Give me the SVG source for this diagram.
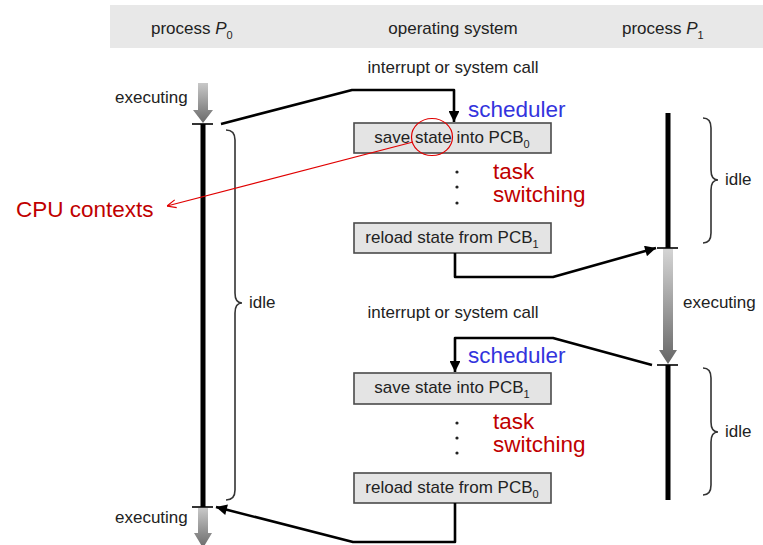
<svg xmlns="http://www.w3.org/2000/svg" width="763" height="545" viewBox="0 0 763 545">
  <defs>
    <style>
      .lbl { font-family: "Liberation Sans", Arial, sans-serif; font-size: 17px; fill: #222; }
      .sub { font-size: 11px; }
      .big { font-family: "Liberation Sans", Arial, sans-serif; font-size: 22.5px; }
      .blue { fill: #3333dd; }
      .red { fill: #c00000; }
      .box { fill: #e4e4e4; stroke: #4a4a4a; stroke-width: 1.6; }
      .flow { fill: none; stroke: #000; stroke-width: 2.6; stroke-linejoin: round; }
      .bar { stroke: #000; stroke-width: 5; }
      .tick { stroke: #000; stroke-width: 1.6; }
      .brace { fill: none; stroke: #333; stroke-width: 1.6; }
      .dot { fill: #222; }
    </style>
    <linearGradient id="execGrad" x1="0" y1="0" x2="0" y2="1">
      <stop offset="0" stop-color="#c8c8c8"/>
      <stop offset="1" stop-color="#6a6a6a"/>
    </linearGradient>
    <linearGradient id="execGradLong" x1="0" y1="0" x2="0" y2="1">
      <stop offset="0" stop-color="#d4d4d4"/>
      <stop offset="0.22" stop-color="#bdbdbd"/>
      <stop offset="1" stop-color="#666"/>
    </linearGradient>
    <marker id="head" viewBox="0 0 10 10" refX="10" refY="5" markerWidth="4.6" markerHeight="4.2" orient="auto" markerUnits="strokeWidth">
      <path d="M0,0 L10,5 L0,10 Z" fill="#000"/>
    </marker>
    <marker id="openHead" viewBox="0 0 10 10" refX="10" refY="5" markerWidth="10" markerHeight="10" orient="auto" markerUnits="userSpaceOnUse">
      <path d="M1,1 L10,5 L1,9" fill="none" stroke="#e00000" stroke-width="1.2"/>
    </marker>
  </defs>

  <!-- column headings -->
  <g id="header">
    <rect x="110" y="5" width="653" height="43" fill="#e8e8e8"/>
    <text class="lbl" x="151" y="34">process <tspan font-style="italic">P</tspan><tspan class="sub" dy="5">0</tspan></text>
    <text class="lbl" x="453" y="34" text-anchor="middle">operating system</text>
    <text class="lbl" x="622" y="34">process <tspan font-style="italic">P</tspan><tspan class="sub" dy="5">1</tspan></text>
  </g>

  <!-- process P0 timeline -->
  <g id="p0">
    <path d="M198,83 H208 V110 H213 L203,123 L193,110 H198 Z" fill="url(#execGrad)"/>
    <line class="tick" x1="192" y1="124" x2="213" y2="124"/>
    <line class="bar" x1="203" y1="124" x2="203" y2="507"/>
    <line class="tick" x1="192" y1="507" x2="213" y2="507"/>
    <path d="M198,508 H208 V533 H212 L203,548 L194,533 H198 Z" fill="url(#execGrad)"/>
    <text class="lbl" x="115" y="103">executing</text>
    <text class="lbl" x="115" y="523">executing</text>
    <path class="brace" d="M226,130 Q235,130 235,140 V293 Q235,303 242,303 Q235,303 235,313 V490 Q235,500 226,500"/>
    <text class="lbl" x="249" y="308">idle</text>
  </g>

  <!-- process P1 timeline -->
  <g id="p1">
    <line class="bar" x1="668" y1="113" x2="668" y2="248"/>
    <line class="tick" x1="657" y1="248" x2="678" y2="248"/>
    <path d="M663,249 H673 V350 H677 L668,364 L659,350 H663 Z" fill="url(#execGradLong)"/>
    <line class="tick" x1="657" y1="365" x2="678" y2="365"/>
    <line class="bar" x1="668" y1="365" x2="668" y2="500"/>
    <text class="lbl" x="683" y="308">executing</text>
    <path class="brace" d="M703,118 Q711,118 711,128 V170 Q711,180 718,180 Q711,180 711,190 V233 Q711,243 703,243"/>
    <text class="lbl" x="725" y="185">idle</text>
    <path class="brace" d="M703,368 Q711,368 711,378 V422 Q711,432 718,432 Q711,432 711,442 V485 Q711,495 703,495"/>
    <text class="lbl" x="725" y="437">idle</text>
  </g>

  <!-- operating system steps -->
  <g id="save0">
    <rect class="box" x="354" y="123" width="197" height="30"/>
    <text class="lbl" x="452" y="143" text-anchor="middle">save state into PCB<tspan class="sub" dy="5">0</tspan></text>
  </g>
  <g id="reload1">
    <rect class="box" x="354" y="223" width="197" height="30"/>
    <text class="lbl" x="452" y="243" text-anchor="middle">reload state from PCB<tspan class="sub" dy="5">1</tspan></text>
  </g>
  <g id="save1">
    <rect class="box" x="354" y="373" width="197" height="31"/>
    <text class="lbl" x="452" y="393" text-anchor="middle">save state into PCB<tspan class="sub" dy="5">1</tspan></text>
  </g>
  <g id="reload0">
    <rect class="box" x="354" y="473" width="197" height="30"/>
    <text class="lbl" x="452" y="493" text-anchor="middle">reload state from PCB<tspan class="sub" dy="5">0</tspan></text>
  </g>

  <!-- elided steps between save and reload -->
  <g id="ellipsis1">
    <circle class="dot" cx="457" cy="172" r="1.6"/>
    <circle class="dot" cx="457" cy="187" r="1.6"/>
    <circle class="dot" cx="457" cy="203" r="1.6"/>
  </g>
  <g id="ellipsis2">
    <circle class="dot" cx="457" cy="423" r="1.6"/>
    <circle class="dot" cx="457" cy="438" r="1.6"/>
    <circle class="dot" cx="457" cy="453" r="1.6"/>
  </g>

  <!-- annotations -->
  <g id="labels">
    <text class="lbl" x="453" y="73" text-anchor="middle">interrupt or system call</text>
    <text class="lbl" x="453" y="318" text-anchor="middle">interrupt or system call</text>
    <text class="big blue" x="468" y="117">scheduler</text>
    <text class="big blue" x="468" y="363">scheduler</text>
    <text class="big red" x="493" y="179">task</text>
    <text class="big red" x="493" y="202">switching</text>
    <text class="big red" x="493" y="429">task</text>
    <text class="big red" x="493" y="452">switching</text>
    <text class="big red" x="16" y="217">CPU contexts</text>
  </g>

  <!-- control-flow connectors -->
  <g id="connectors">
    <polyline class="flow" points="221,124 352,90 454,90 454,122" marker-end="url(#head)"/>
    <polyline class="flow" points="455,253 455,277 553,277 656,248" marker-end="url(#head)"/>
    <polyline class="flow" points="652,365 553,338 455,338 455,372" marker-end="url(#head)"/>
    <polyline class="flow" points="455,503 455,542 353,542 216,507" marker-end="url(#head)"/>
    <ellipse cx="432" cy="137" rx="20.5" ry="18.5" fill="none" stroke="#e00000" stroke-width="1.2"/>
    <line x1="413" y1="142" x2="167" y2="206" stroke="#e00000" stroke-width="1.2" marker-end="url(#openHead)"/>
  </g>
</svg>
